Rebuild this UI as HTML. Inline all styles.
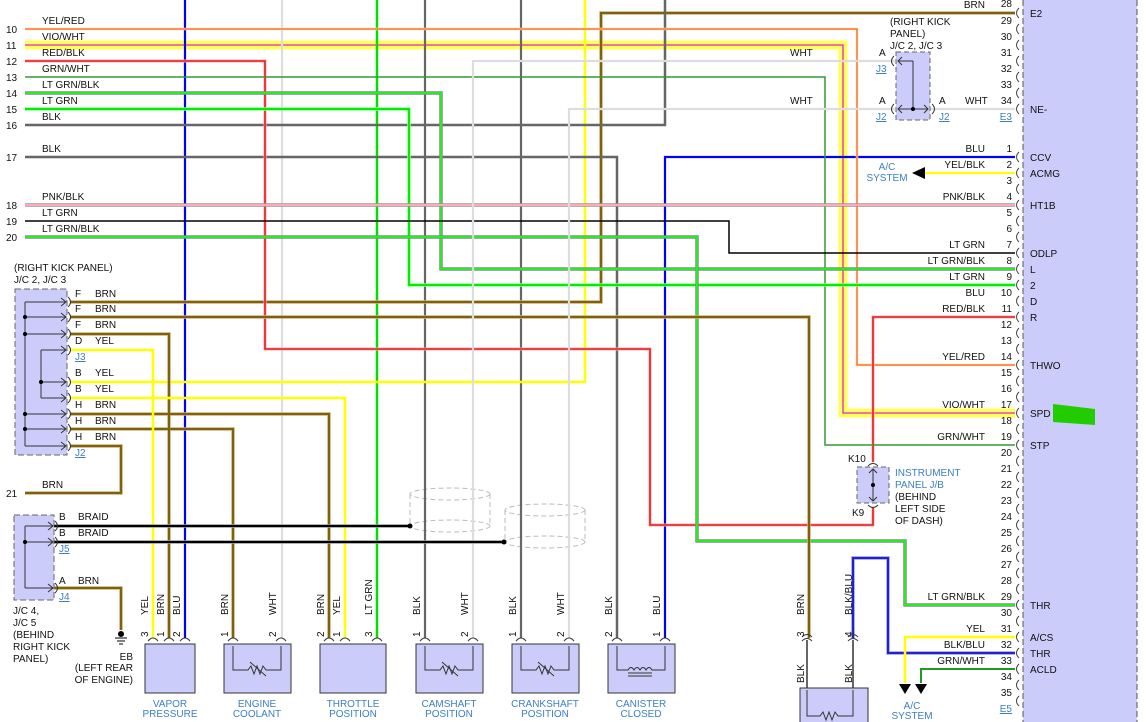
<!DOCTYPE html>
<html><head><meta charset="utf-8"><style>
html,body{margin:0;padding:0;background:#fff}
svg{display:block}
text{font-family:"Liberation Sans",sans-serif;font-size:10px;fill:#111}
.b{fill:#3a7fc8}
.u{fill:#3a7fc8;text-decoration:underline}
.r{text-anchor:end}
.m{text-anchor:middle}
</style></head><body>
<svg width="1147" height="722" viewBox="0 0 1147 722" xmlns="http://www.w3.org/2000/svg" fill="none">
<rect x="1023" y="0" width="114" height="722" fill="#ccccfa"/>
<line x1="1023" y1="0" x2="1023" y2="722" stroke="#555" stroke-dasharray="6,3"/>
<line x1="1137" y1="0" x2="1137" y2="722" stroke="#555" stroke-dasharray="6,3"/>
<polygon points="1053,404 1095,409 1095,425 1053,422" fill="#22cc00"/>

<g stroke="#bbb" stroke-dasharray="5,3">
<ellipse cx="450" cy="494" rx="40" ry="6"/><ellipse cx="450" cy="526" rx="40" ry="6"/>
<line x1="410" y1="494" x2="410" y2="526"/><line x1="490" y1="494" x2="490" y2="526"/>
<ellipse cx="545" cy="510" rx="40" ry="6"/><ellipse cx="545" cy="542" rx="40" ry="6"/>
<line x1="505" y1="510" x2="505" y2="542"/><line x1="585" y1="510" x2="585" y2="542"/>
</g>

<g stroke-linejoin="miter">
<path d="M25 45 H843 V413 H1015" stroke="#ffff55" stroke-width="9"/>
<path d="M25 45 H843 V413 H1015" stroke="#e020e0" stroke-width="1.3"/>
<path d="M185 0 V638" stroke="#0000ff" stroke-width="2.2"/>
<path d="M282 0 V638" stroke="#dddddd" stroke-width="2.2"/>
<path d="M377 0 V638" stroke="#00e000" stroke-width="2.5"/>
<path d="M425 0 V638" stroke="#666" stroke-width="2.2"/>
<path d="M521 0 V638" stroke="#666" stroke-width="2.2"/>
<path d="M70 382 H585 V0" stroke="#ffff00" stroke-width="2.5"/>
<path d="M70 302 H601 V13 H1015" stroke="#c8b070" stroke-width="3.5"/>
<path d="M70 302 H601 V13 H1015" stroke="#806010" stroke-width="2"/>
<path d="M25 125 H665 V0" stroke="#666" stroke-width="2.5"/>
<path d="M25 157 H617 V638" stroke="#666" stroke-width="2.5"/>
<path d="M1015 157 H665 V638" stroke="#0000ff" stroke-width="2.2"/>
<path d="M25 29 H857 V365 H1015" stroke="#ffee88" stroke-width="2.5"/>
<path d="M25 29 H857 V365 H1015" stroke="#ff3030" stroke-width="1"/>
<path d="M25 61 H265 V349 H650 V525 H873 V508 M873 462 V317 H1015" stroke="#ffaaaa" stroke-width="3"/>
<path d="M25 61 H265 V349 H650 V525 H873 V508 M873 462 V317 H1015" stroke="#e02020" stroke-width="1.6"/>
<path d="M25 77 H825 V445 H1015" stroke="#339933" stroke-width="1.5"/>
<path d="M25 93 H441 V269 H1015" stroke="#888" stroke-width="3.5"/>
<path d="M25 93 H441 V269 H1015" stroke="#22ee22" stroke-width="2"/>
<path d="M25 109 H409 V285 H1015" stroke="#aaffaa" stroke-width="3.5"/>
<path d="M25 109 H409 V285 H1015" stroke="#00ee00" stroke-width="2.2"/>
<path d="M25 205 H1015" stroke="#999" stroke-width="3.5"/>
<path d="M25 205 H1015" stroke="#ffaabb" stroke-width="2"/>
<path d="M25 221 H729 V253 H1015" stroke="#000" stroke-width="1.5"/>
<path d="M25 237 H697 V541 H905 V605 H1015" stroke="#888" stroke-width="3.5"/>
<path d="M25 237 H697 V541 H905 V605 H1015" stroke="#22ee22" stroke-width="2"/>
<path d="M70 317 H809 V638" stroke="#c8b070" stroke-width="3.5"/>
<path d="M70 317 H809 V638" stroke="#806010" stroke-width="2"/>
<path d="M70 334 H169 V638 M70 414 H329 V638 M70 429 H233 V638 M70 446 H121 V493 H25 M54 588 H121 V630" stroke="#c8b070" stroke-width="3.5"/>
<path d="M70 334 H169 V638 M70 414 H329 V638 M70 429 H233 V638 M70 446 H121 V493 H25 M54 588 H121 V630" stroke="#806010" stroke-width="2"/>
<path d="M70 350 H153 V638 M70 398 H345 V638" stroke="#ffff00" stroke-width="2.5"/>
<path d="M473 638 V61 H895 M569 638 V109 H895 M930 109 H1015" stroke="#dddddd" stroke-width="2.2"/>
<path d="M54 526 H410 M54 542 H504" stroke="#999" stroke-width="3.5"/>
<path d="M54 526 H410 M54 542 H504" stroke="#000" stroke-width="2"/>
<path d="M853 638 V558 H888 V653 H1015" stroke="#9999ee" stroke-width="3.5"/>
<path d="M853 638 V558 H888 V653 H1015" stroke="#2222cc" stroke-width="2"/>
<path d="M1015 637 H905 V683" stroke="#ffff00" stroke-width="2.5"/>
<path d="M1015 669 H921 V683" stroke="#229922" stroke-width="2"/>
<path d="M1015 173 H925" stroke="#ffff00" stroke-width="2.2"/>
<path d="M807 640 V722 M853 640 V722" stroke="#666" stroke-width="2"/>
</g>
<circle cx="410" cy="526" r="2.5" fill="#000"/><circle cx="504" cy="542" r="2.5" fill="#000"/>
<polygon points="912,173 925,167 925,179" fill="#000"/>
<polygon points="899,684 911,684 905,694" fill="#000"/><polygon points="915,684 927,684 921,694" fill="#000"/>

<g stroke="#444" stroke-width="1">
<path d="M1019 8 q-5 5 0 10 M1019 24 q-5 5 0 10 M1019 40 q-5 5 0 10 M1019 56 q-5 5 0 10 M1019 72 q-5 5 0 10 M1019 88 q-5 5 0 10 M1019 104 q-5 5 0 10"/>
<path d="M1019 152 q-5 5 0 10 M1019 168 q-5 5 0 10 M1019 184 q-5 5 0 10 M1019 200 q-5 5 0 10 M1019 216 q-5 5 0 10 M1019 232 q-5 5 0 10 M1019 248 q-5 5 0 10 M1019 264 q-5 5 0 10 M1019 280 q-5 5 0 10 M1019 296 q-5 5 0 10 M1019 312 q-5 5 0 10 M1019 328 q-5 5 0 10 M1019 344 q-5 5 0 10 M1019 360 q-5 5 0 10 M1019 376 q-5 5 0 10 M1019 392 q-5 5 0 10 M1019 408 q-5 5 0 10 M1019 424 q-5 5 0 10 M1019 440 q-5 5 0 10 M1019 456 q-5 5 0 10 M1019 472 q-5 5 0 10 M1019 488 q-5 5 0 10 M1019 504 q-5 5 0 10 M1019 520 q-5 5 0 10 M1019 536 q-5 5 0 10 M1019 552 q-5 5 0 10 M1019 568 q-5 5 0 10 M1019 584 q-5 5 0 10 M1019 600 q-5 5 0 10 M1019 616 q-5 5 0 10 M1019 632 q-5 5 0 10 M1019 648 q-5 5 0 10 M1019 664 q-5 5 0 10 M1019 680 q-5 5 0 10 M1019 696 q-5 5 0 10"/>
</g>

<rect x="15" y="289" width="52" height="166" fill="#ccccfa" stroke="#666" stroke-dasharray="6,3"/>
<g stroke="#333" stroke-width="1">
<path d="M25 302 V446 M25 302 H66 M25 317 H66 M25 334 H66 M25 414 H66 M25 429 H66 M25 446 H66 M41 350 V398 M41 350 H66 M41 382 H66 M41 398 H66"/>
<path d="M61 298 l5 4 l-5 4 M61 313 l5 4 l-5 4 M61 330 l5 4 l-5 4 M61 346 l5 4 l-5 4 M61 378 l5 4 l-5 4 M61 394 l5 4 l-5 4 M61 410 l5 4 l-5 4 M61 425 l5 4 l-5 4 M61 442 l5 4 l-5 4"/>
<path d="M68 297 q5 5 0 10 M68 312 q5 5 0 10 M68 329 q5 5 0 10 M68 345 q5 5 0 10 M68 377 q5 5 0 10 M68 393 q5 5 0 10 M68 409 q5 5 0 10 M68 424 q5 5 0 10 M68 441 q5 5 0 10"/>
</g>
<g fill="#000"><circle cx="25" cy="317" r="2"/><circle cx="25" cy="334" r="2"/><circle cx="25" cy="414" r="2"/><circle cx="25" cy="429" r="2"/><circle cx="41" cy="382" r="2"/></g>

<rect x="14" y="515" width="40" height="85" fill="#ccccfa" stroke="#666" stroke-dasharray="6,3"/>
<g stroke="#333" stroke-width="1">
<path d="M25 526 V588 M25 526 H53 M25 542 H53 M25 588 H53 M48 522 l5 4 l-5 4 M48 538 l5 4 l-5 4 M48 584 l5 4 l-5 4 M55 521 q5 5 0 10 M55 537 q5 5 0 10 M55 583 q5 5 0 10"/>
</g>
<circle cx="25" cy="542" r="2" fill="#000"/>
<g stroke="#000"><path d="M115 638 H127 M117 641 H125 M119 644 H123"/></g>
<circle cx="121" cy="634" r="3" fill="#000"/>

<rect x="896" y="52" width="34" height="68" fill="#ccccfa" stroke="#666" stroke-dasharray="5,3"/>
<g stroke="#333" stroke-width="1"><path d="M913 61 V109 M913 61 H898 M902 57 l-4 4 l4 4 M898 109 H928 M902 105 l-4 4 l4 4 M924 105 l4 4 l-4 4 M894 56 q-5 5 0 10 M894 104 q-5 5 0 10 M932 104 q5 5 0 10"/></g>
<circle cx="913" cy="109" r="2" fill="#000"/>

<rect x="857" y="467" width="32" height="36" fill="#ccccfa" stroke="#666" stroke-dasharray="5,3"/>
<g stroke="#333" stroke-width="1"><path d="M873 469 V501 M869 473 l4 -4 l4 4 M869 497 l4 4 l4 -4 M868 466 q5 -5 10 0 M868 505 q5 5 10 0"/></g>
<circle cx="873" cy="485" r="2" fill="#000"/>

<g fill="#ccccfa" stroke="#333" stroke-width="1">
<rect x="145" y="644" width="50" height="49"/>
<rect x="224" y="644" width="67" height="49"/>
<rect x="320" y="644" width="66" height="49"/>
<rect x="416" y="644" width="67" height="49"/>
<rect x="512" y="644" width="67" height="49"/>
<rect x="608" y="644" width="67" height="49"/>
<rect x="800" y="688" width="68" height="40"/>
</g>
<g stroke="#333" stroke-width="1">
<path d="M233 646 V670 H248 l3 -4 l3 8 l3 -8 l3 8 l3 -8 l3 4 H281 V646 M250 662 L266 676"/>
<path d="M425 646 V670 H440 l3 -4 l3 8 l3 -8 l3 8 l3 -8 l3 4 H473 V646 M442 662 L458 676"/>
<path d="M521 646 V670 H536 l3 -4 l3 8 l3 -8 l3 8 l3 -8 l3 4 H569 V646 M538 662 L554 676"/>
<path d="M617 646 V670 H628 q3 -5 6 0 q3 -5 6 0 q3 -5 6 0 q3 -5 6 0 H665 V646 M628 673 H652 M628 676 H652"/>
<path d="M807 690 V716 H820 l3 -4 l3 8 l3 -8 l3 8 l3 -8 l3 4 H853 V690"/>
<path d="M148 641 q5 -6 10 0 M164 641 q5 -6 10 0 M180 641 q5 -6 10 0 M228 641 q5 -6 10 0 M276 641 q5 -6 10 0 M324 641 q5 -6 10 0 M340 641 q5 -6 10 0 M372 641 q5 -6 10 0 M420 641 q5 -6 10 0 M468 641 q5 -6 10 0 M516 641 q5 -6 10 0 M564 641 q5 -6 10 0 M612 641 q5 -6 10 0 M660 641 q5 -6 10 0 M802 637 q5 -5 10 0 M802 641 q5 -5 10 0 M848 637 q5 -5 10 0 M848 641 q5 -5 10 0"/>
</g>

<g>
<text x="6" y="33">10</text><text x="6" y="49">11</text><text x="6" y="65">12</text><text x="6" y="81">13</text><text x="6" y="97">14</text><text x="6" y="113">15</text><text x="6" y="129">16</text><text x="6" y="161">17</text><text x="6" y="209">18</text><text x="6" y="225">19</text><text x="6" y="241">20</text><text x="6" y="497">21</text>
<text x="42" y="24">YEL/RED</text><text x="42" y="40">VIO/WHT</text><text x="42" y="56">RED/BLK</text><text x="42" y="72">GRN/WHT</text><text x="42" y="88">LT GRN/BLK</text><text x="42" y="104">LT GRN</text><text x="42" y="120">BLK</text><text x="42" y="152">BLK</text><text x="42" y="200">PNK/BLK</text><text x="42" y="216">LT GRN</text><text x="42" y="232">LT GRN/BLK</text><text x="42" y="488">BRN</text>
<text x="14" y="271">(RIGHT KICK PANEL)</text><text x="14" y="283">J/C 2, J/C 3</text>
<text x="75" y="297">F</text><text x="95" y="297">BRN</text>
<text x="75" y="312">F</text><text x="95" y="312">BRN</text>
<text x="75" y="328">F</text><text x="95" y="328">BRN</text>
<text x="75" y="344">D</text><text x="95" y="344">YEL</text>
<text x="75" y="360" class="u">J3</text>
<text x="75" y="376">B</text><text x="95" y="376">YEL</text>
<text x="75" y="392">B</text><text x="95" y="392">YEL</text>
<text x="75" y="408">H</text><text x="95" y="408">BRN</text>
<text x="75" y="424">H</text><text x="95" y="424">BRN</text>
<text x="75" y="440">H</text><text x="95" y="440">BRN</text>
<text x="75" y="456" class="u">J2</text>
<text x="59" y="520">B</text><text x="78" y="520">BRAID</text>
<text x="59" y="536">B</text><text x="78" y="536">BRAID</text>
<text x="59" y="552" class="u">J5</text>
<text x="59" y="584">A</text><text x="78" y="584">BRN</text>
<text x="59" y="600" class="u">J4</text>
<text x="13" y="614">J/C 4,</text><text x="13" y="626">J/C 5</text><text x="13" y="638">(BEHIND</text><text x="13" y="650">RIGHT KICK</text><text x="13" y="662">PANEL)</text>
<text x="133" y="660" class="r">EB</text><text x="133" y="671" class="r">(LEFT REAR</text><text x="133" y="683" class="r">OF ENGINE)</text>
</g>

<g>
<text transform="translate(148,615) rotate(-90)">YEL</text>
<text transform="translate(164,615) rotate(-90)">BRN</text>
<text transform="translate(180,615) rotate(-90)">BLU</text>
<text transform="translate(228,615) rotate(-90)">BRN</text>
<text transform="translate(276,615) rotate(-90)">WHT</text>
<text transform="translate(324,615) rotate(-90)">BRN</text>
<text transform="translate(340,615) rotate(-90)">YEL</text>
<text transform="translate(372,615) rotate(-90)">LT GRN</text>
<text transform="translate(420,615) rotate(-90)">BLK</text>
<text transform="translate(468,615) rotate(-90)">WHT</text>
<text transform="translate(516,615) rotate(-90)">BLK</text>
<text transform="translate(564,615) rotate(-90)">WHT</text>
<text transform="translate(612,615) rotate(-90)">BLK</text>
<text transform="translate(660,615) rotate(-90)">BLU</text>
<text transform="translate(804,615) rotate(-90)">BRN</text>
<text transform="translate(852,615) rotate(-90)">BLK/BLU</text>
<text transform="translate(804,683) rotate(-90)">BLK</text>
<text transform="translate(852,683) rotate(-90)">BLK</text>
<text transform="translate(148,637) rotate(-90)">3</text>
<text transform="translate(164,637) rotate(-90)">1</text>
<text transform="translate(180,637) rotate(-90)">2</text>
<text transform="translate(228,637) rotate(-90)">1</text>
<text transform="translate(276,637) rotate(-90)">2</text>
<text transform="translate(324,637) rotate(-90)">2</text>
<text transform="translate(340,637) rotate(-90)">1</text>
<text transform="translate(372,637) rotate(-90)">3</text>
<text transform="translate(420,637) rotate(-90)">1</text>
<text transform="translate(468,637) rotate(-90)">2</text>
<text transform="translate(516,637) rotate(-90)">1</text>
<text transform="translate(564,637) rotate(-90)">2</text>
<text transform="translate(612,637) rotate(-90)">2</text>
<text transform="translate(660,637) rotate(-90)">1</text>
<text transform="translate(804,637) rotate(-90)">3</text>
<text transform="translate(852,637) rotate(-90)">4</text>
</g>
<g class="b">
<text x="170" y="707" class="m b">VAPOR</text><text x="170" y="717" class="m b">PRESSURE</text>
<text x="257" y="707" class="m b">ENGINE</text><text x="257" y="717" class="m b">COOLANT</text>
<text x="353" y="707" class="m b">THROTTLE</text><text x="353" y="717" class="m b">POSITION</text>
<text x="449" y="707" class="m b">CAMSHAFT</text><text x="449" y="717" class="m b">POSITION</text>
<text x="545" y="707" class="m b">CRANKSHAFT</text><text x="545" y="717" class="m b">POSITION</text>
<text x="641" y="707" class="m b">CANISTER</text><text x="641" y="717" class="m b">CLOSED</text>
<text x="912" y="709" class="m b">A/C</text><text x="912" y="719" class="m b">SYSTEM</text>
<text x="887" y="170" class="m b">A/C</text><text x="887" y="181" class="m b">SYSTEM</text>
<text x="895" y="476" class="b">INSTRUMENT</text><text x="895" y="488" class="b">PANEL J/B</text>
</g>
<text x="895" y="500">(BEHIND</text><text x="895" y="512">LEFT SIDE</text><text x="895" y="524">OF DASH)</text>
<text x="848" y="462">K10</text><text x="852" y="516">K9</text>

<text x="890" y="25">(RIGHT KICK</text><text x="890" y="37">PANEL)</text><text x="890" y="49">J/C 2, J/C 3</text>
<text x="879" y="56">A</text><text x="876" y="72" class="u">J3</text>
<text x="879" y="104">A</text><text x="876" y="120" class="u">J2</text>
<text x="939" y="104">A</text><text x="939" y="120" class="u">J2</text>
<text x="965" y="104">WHT</text>
<text x="790" y="56">WHT</text><text x="790" y="104">WHT</text>
<text x="1012" y="120" class="r u">E3</text>
<text x="1012" y="712" class="r u">E5</text>

<g class="r">
<text x="1012" y="7" class="r">28</text>
<text x="1012" y="24" class="r">29</text><text x="1012" y="40" class="r">30</text><text x="1012" y="56" class="r">31</text><text x="1012" y="72" class="r">32</text><text x="1012" y="88" class="r">33</text><text x="1012" y="104" class="r">34</text>
<text x="1012" y="152" class="r">1</text><text x="1012" y="168" class="r">2</text><text x="1012" y="184" class="r">3</text><text x="1012" y="200" class="r">4</text><text x="1012" y="216" class="r">5</text><text x="1012" y="232" class="r">6</text><text x="1012" y="248" class="r">7</text><text x="1012" y="264" class="r">8</text><text x="1012" y="280" class="r">9</text><text x="1012" y="296" class="r">10</text><text x="1012" y="312" class="r">11</text><text x="1012" y="328" class="r">12</text><text x="1012" y="344" class="r">13</text><text x="1012" y="360" class="r">14</text><text x="1012" y="376" class="r">15</text><text x="1012" y="392" class="r">16</text><text x="1012" y="408" class="r">17</text><text x="1012" y="424" class="r">18</text><text x="1012" y="440" class="r">19</text><text x="1012" y="456" class="r">20</text><text x="1012" y="472" class="r">21</text><text x="1012" y="488" class="r">22</text><text x="1012" y="504" class="r">23</text><text x="1012" y="520" class="r">24</text><text x="1012" y="536" class="r">25</text><text x="1012" y="552" class="r">26</text><text x="1012" y="568" class="r">27</text><text x="1012" y="584" class="r">28</text><text x="1012" y="600" class="r">29</text><text x="1012" y="616" class="r">30</text><text x="1012" y="632" class="r">31</text><text x="1012" y="648" class="r">32</text><text x="1012" y="664" class="r">33</text><text x="1012" y="680" class="r">34</text><text x="1012" y="696" class="r">35</text>
</g>
<text x="985" y="8" class="r">BRN</text>
<text x="985" y="152" class="r">BLU</text><text x="985" y="168" class="r">YEL/BLK</text><text x="985" y="200" class="r">PNK/BLK</text><text x="985" y="248" class="r">LT GRN</text><text x="985" y="264" class="r">LT GRN/BLK</text><text x="985" y="280" class="r">LT GRN</text><text x="985" y="296" class="r">BLU</text><text x="985" y="312" class="r">RED/BLK</text><text x="985" y="360" class="r">YEL/RED</text><text x="985" y="408" class="r">VIO/WHT</text><text x="985" y="440" class="r">GRN/WHT</text><text x="985" y="600" class="r">LT GRN/BLK</text><text x="985" y="632" class="r">YEL</text><text x="985" y="648" class="r">BLK/BLU</text><text x="985" y="664" class="r">GRN/WHT</text>
<text x="1030" y="17">E2</text><text x="1030" y="113">NE-</text><text x="1030" y="161">CCV</text><text x="1030" y="177">ACMG</text><text x="1030" y="209">HT1B</text><text x="1030" y="257">ODLP</text><text x="1030" y="273">L</text><text x="1030" y="289">2</text><text x="1030" y="305">D</text><text x="1030" y="321">R</text><text x="1030" y="369">THWO</text><text x="1030" y="417">SPD</text><text x="1030" y="449">STP</text><text x="1030" y="609">THR</text><text x="1030" y="641">A/CS</text><text x="1030" y="657">THR</text><text x="1030" y="673">ACLD</text>
</svg>
</body></html>
